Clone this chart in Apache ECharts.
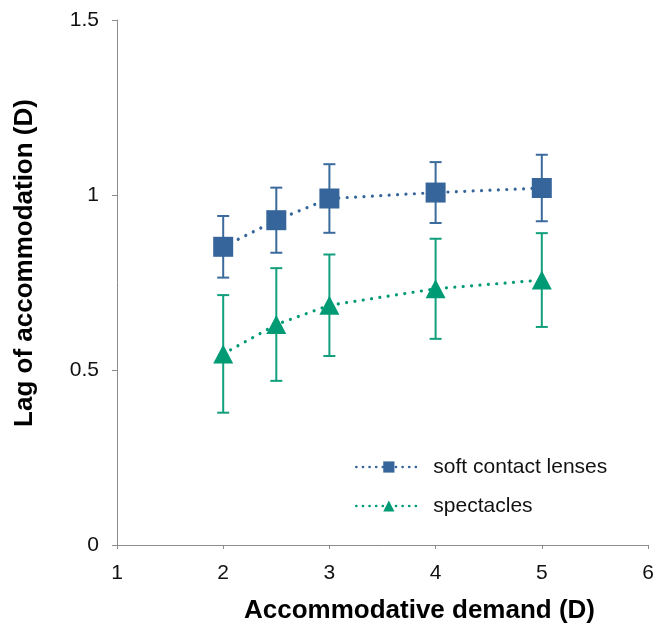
<!DOCTYPE html>
<html>
<head>
<meta charset="utf-8">
<script src="https://cdn.jsdelivr.net/npm/echarts@6/dist/echarts.min.js"></script>
<style>
  html, body { margin: 0; padding: 0; background: #fff; }
  #chart { width: 657px; height: 635px; }
</style>
</head>
<body>
<div id="chart"></div>
<script>
// Accommodative demand (D)
const demand = [2, 2.5, 3, 4, 5];

// Lag of accommodation (D): means and error half-widths
const lensesMean = [0.852, 0.928, 0.990, 1.007, 1.020];
const lensesErr  = [0.088, 0.093, 0.098, 0.087, 0.095];
const spectMean  = [0.546, 0.630, 0.685, 0.732, 0.757];
const spectErr   = [0.168, 0.161, 0.145, 0.143, 0.134];

const seriesNames = ['soft contact lenses', 'spectacles'];
const blue = '#35659a';
const green = '#009b74';
const font = 'Liberation Sans, Arial, sans-serif';

function errorBars(name, xs, means, errs, color) {
  return {
    type: 'custom',
    name: name + ' error',
    z: 1,
    silent: true,
    data: xs.map((x, i) => [x, means[i] - errs[i], means[i] + errs[i]]),
    encode: { x: 0, y: [1, 2] },
    renderItem: (params, api) => {
      const lo = api.coord([api.value(0), api.value(1)]);
      const hi = api.coord([api.value(0), api.value(2)]);
      const hw = 6;
      const style = { stroke: color, lineWidth: 2 };
      return {
        type: 'group',
        children: [
          { type: 'line', shape: { x1: lo[0], y1: lo[1], x2: hi[0], y2: hi[1] }, style },
          { type: 'line', shape: { x1: lo[0] - hw, y1: lo[1], x2: lo[0] + hw, y2: lo[1] }, style },
          { type: 'line', shape: { x1: hi[0] - hw, y1: hi[1], x2: hi[0] + hw, y2: hi[1] }, style }
        ]
      };
    }
  };
}

function lineSeries(name, xs, means, color, symbol, size) {
  return {
    type: 'line',
    name: name,
    z: 3,
    data: xs.map((x, i) => [x, means[i]]),
    symbol: symbol,
    symbolSize: size,
    showAllSymbol: true,
    itemStyle: { color: color, opacity: 1 },
    lineStyle: { color: color, width: 3.2, type: [0.01, 8.4], cap: 'round' },
    emphasis: { disabled: true }
  };
}

const chart = echarts.init(document.getElementById('chart'), null, { renderer: 'canvas' });
chart.setOption({
  animation: false,
  backgroundColor: '#ffffff',
  grid: { left: 117, right: 9, top: 20, bottom: 90, containLabel: false },
  xAxis: {
    type: 'value', min: 1, max: 6, interval: 1,
    name: 'Accommodative demand (D)',
    nameLocation: 'middle', nameGap: 53,
    nameTextStyle: { fontFamily: font, fontSize: 26, fontWeight: 'bold', color: '#000', padding: [0, 0, 0, 74] },
    axisLine: { lineStyle: { color: '#8c8c8c', width: 1 } },
    axisTick: { show: true, length: 4, lineStyle: { color: '#8c8c8c' } },
    axisLabel: { fontFamily: font, fontSize: 21, color: '#111', margin: 18 },
    splitLine: { show: false }
  },
  yAxis: {
    type: 'value', min: 0, max: 1.5, interval: 0.5,
    name: 'Lag of accommodation (D)',
    nameLocation: 'middle', nameGap: 79, nameRotate: 90,
    nameTextStyle: { fontFamily: font, fontSize: 26, fontWeight: 'bold', color: '#000', padding: [0, 0, 0, 39] },
    axisLine: { show: true, lineStyle: { color: '#8c8c8c', width: 1 } },
    axisTick: { show: true, length: 5, lineStyle: { color: '#8c8c8c' } },
    axisLabel: { fontFamily: font, fontSize: 21, color: '#111', margin: 18 },
    splitLine: { show: false }
  },
  legend: {
    data: seriesNames,
    orient: 'vertical',
    left: 350, top: 451,
    itemWidth: 65, itemHeight: 14, itemGap: 17,
    lineStyle: { width: 2.7, type: [0.01, 6.6], cap: 'round' },
    textStyle: { fontFamily: font, fontSize: 21, lineHeight: 22, color: '#111', padding: [0, 0, 0, 7] },
    selectedMode: false
  },
  series: [
    errorBars(seriesNames[0], demand, lensesMean, lensesErr, '#3b6a9d'),
    errorBars(seriesNames[1], demand, spectMean, spectErr, '#12a07c'),
    lineSeries(seriesNames[0], demand, lensesMean, blue, 'rect', 20),
    lineSeries(seriesNames[1], demand, spectMean, green, 'triangle', [20, 19])
  ]
});
</script>
</body>
</html>
